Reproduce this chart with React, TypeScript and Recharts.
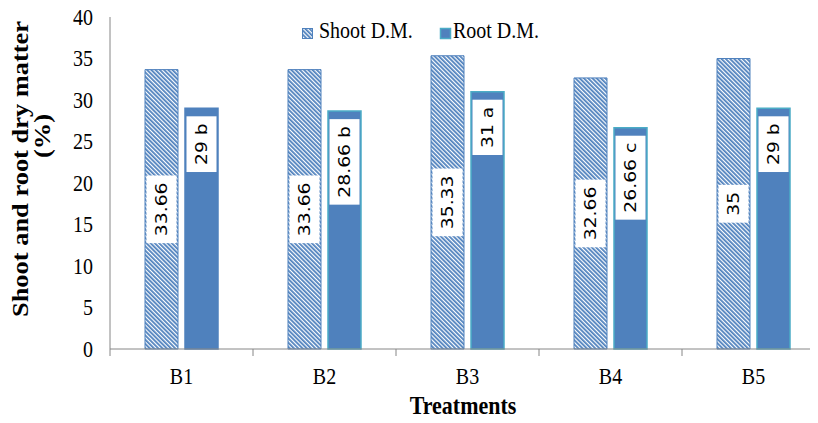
import React from 'react';
import { BarChart, Bar, XAxis, YAxis, Cell, LabelList, Label } from 'recharts';

const treatments = ['B1', 'B2', 'B3', 'B4', 'B5'];
const shootDM = [33.66, 33.66, 35.33, 32.66, 35];
const rootDM = [29, 28.66, 31, 26.66, 29];
const rootLetters = ['b', 'b', 'a', 'c', 'b'];
const yTicks = [0, 5, 10, 15, 20, 25, 30, 35, 40];

const data = treatments.map((name, i) => ({
  name,
  shoot: shootDM[i],
  root: rootDM[i],
}));

const BLUE = '#4f81bd';
const CYAN = '#4bacc6';
const AXIS = '#868686';
const SERIF = '"Liberation Serif", "Times New Roman", serif';
const SANS = '"DejaVu Sans", Verdana, sans-serif';

const CHART_W = 830;
const CHART_H = 423;
const Y_AXIS_W = 102;
const MARGIN_R = 13;
const BAND = (CHART_W - Y_AXIS_W - MARGIN_R) / treatments.length;

const LABEL_FS = 15;
const STRETCH = 1.25;
const TEXT_STRETCH = 1.18;

const charW: Record<string, number> = { '.': 0.318, ' ': 0.318, a: 0.613, b: 0.635, c: 0.55 };
const textLen = (s: string) =>
  s.split('').reduce((sum, ch) => sum + (charW[ch] ?? 0.636), 0) * LABEL_FS * STRETCH;

const RotatedText = ({ cx, cy, text }: { cx: number; cy: number; text: string }) => (
  <text
    transform={`translate(${cx + 5.5},${cy}) scale(1,${STRETCH}) rotate(-90)`}
    textAnchor="middle"
    fontSize={LABEL_FS}
    fontFamily={SANS}
    fill="#000"
  >
    {text}
  </text>
);

const ShootLabel = (p: any) => {
  const { x, y, width, height, value } = p;
  const text = String(value);
  const boxH = textLen(text) + 14;
  const cx = x + width / 2;
  const cy = y + height / 2;
  return (
    <g>
      <rect x={x + 1.5} y={cy - boxH / 2} width={width - 3} height={boxH} fill="#fff" />
      <RotatedText cx={cx} cy={cy} text={text} />
    </g>
  );
};

const RootLabel = (p: any) => {
  const { x, y, width, value, index } = p;
  const text = `${value} ${rootLetters[index]}`;
  const boxH = textLen(text) + 14;
  const top = y + 8;
  const cx = x + width / 2;
  return (
    <g>
      <rect x={x + 1.5} y={top} width={width - 3} height={boxH} fill="#fff" />
      <RotatedText cx={cx} cy={top + boxH / 2} text={text} />
    </g>
  );
};

// serif text, a little taller than wide, like the source picture
const TallText = ({ x, y, size, anchor = 'middle', bold = false, children }: any) => (
  <text
    transform={`translate(${x},${y}) scale(1,${TEXT_STRETCH})`}
    textAnchor={anchor}
    fontSize={size}
    fontFamily={SERIF}
    fontWeight={bold ? 'bold' : 'normal'}
    fill="#000"
  >
    {children}
  </text>
);

const XTick = (p: any) => {
  const { x, y, payload, index } = p;
  const half = BAND / 2;
  return (
    <g>
      <line x1={x - half} x2={x - half} y1={y} y2={y + 7} stroke={AXIS} />
      {index === treatments.length - 1 && (
        <line x1={x + half} x2={x + half} y1={y} y2={y + 7} stroke={AXIS} />
      )}
      <TallText x={x} y={y + 35} size={20}>
        {payload.value}
      </TallText>
    </g>
  );
};

const YTick = (p: any) => {
  const { x, y, payload } = p;
  return (
    <TallText x={x} y={y + 7.5} size={20} anchor="end">
      {payload.value}
    </TallText>
  );
};

const YTitle = () => (
  <g fontFamily={SERIF} fontWeight="bold" fontSize={23} fill="#000">
    <text transform={`translate(20,169) scale(1,1.15) rotate(-90)`} textAnchor="middle">
      Shoot and root dry matter
    </text>
    <text transform={`translate(42,136) scale(1,1.15) rotate(-90)`} textAnchor="middle">
      (%)
    </text>
  </g>
);

const XTitle = () => (
  <TallText x={455} y={414} size={22} bold>
    Treatments
  </TallText>
);

const LegendOverlay = () => (
  <svg width={810} height={45} style={{ position: 'absolute', left: 0, top: 0, pointerEvents: 'none' }}>
    <defs>
      <pattern id="hatchLegend" width="3" height="3" patternUnits="userSpaceOnUse" patternTransform="rotate(-45)">
        <rect width="3" height="3" fill="#fff" />
        <rect width="1.8" height="3" fill={BLUE} />
      </pattern>
    </defs>
    <rect x={294.5} y={28.5} width={10} height={10} fill="url(#hatchLegend)" stroke={BLUE} />
    <TallText x={311} y={38} size={20} anchor="start">
      Shoot D.M.
    </TallText>
    <rect x={432.5} y={28.5} width={10} height={10} fill={BLUE} stroke={CYAN} strokeWidth={1.5} />
    <TallText x={445} y={38} size={20} anchor="start">
      Root D.M.
    </TallText>
  </svg>
);

export default function App() {
  return (
    <div
      style={{
        position: 'relative',
        width: 810,
        height: CHART_H,
        marginTop: -8,
        overflow: 'hidden',
        background: '#fff',
      }}
    >
      <BarChart
        width={CHART_W}
        height={CHART_H}
        data={data}
        margin={{ top: 17, right: MARGIN_R, bottom: 0, left: 0 }}
        barGap={7}
      >
        <defs>
          <pattern id="hatch" width="3" height="3" patternUnits="userSpaceOnUse" patternTransform="rotate(-45)">
            <rect width="3" height="3" fill="#fff" />
            <rect width="1.8" height="3" fill={BLUE} />
          </pattern>
        </defs>
        <XAxis
          dataKey="name"
          height={74}
          interval={0}
          axisLine={{ stroke: AXIS }}
          tickLine={false}
          tickSize={0}
          tickMargin={0}
          tick={<XTick />}
        >
          <Label content={<XTitle />} />
        </XAxis>
        <YAxis
          width={Y_AXIS_W}
          domain={[0, 40]}
          ticks={yTicks}
          interval={0}
          axisLine={{ stroke: AXIS }}
          tickLine={false}
          tickSize={6}
          tickMargin={11}
          tick={<YTick />}
        >
          <Label content={<YTitle />} />
        </YAxis>
        <Bar dataKey="shoot" barSize={33} fill="url(#hatch)" stroke={BLUE} isAnimationActive={false}>
          <LabelList dataKey="shoot" content={<ShootLabel />} />
        </Bar>
        <Bar dataKey="root" barSize={33} fill={BLUE} isAnimationActive={false}>
          {data.map((d, i) => (
            <Cell key={d.name} stroke={i === 0 ? BLUE : CYAN} strokeWidth={1.5} />
          ))}
          <LabelList dataKey="root" content={<RootLabel />} />
        </Bar>
      </BarChart>
      <LegendOverlay />
    </div>
  );
}
